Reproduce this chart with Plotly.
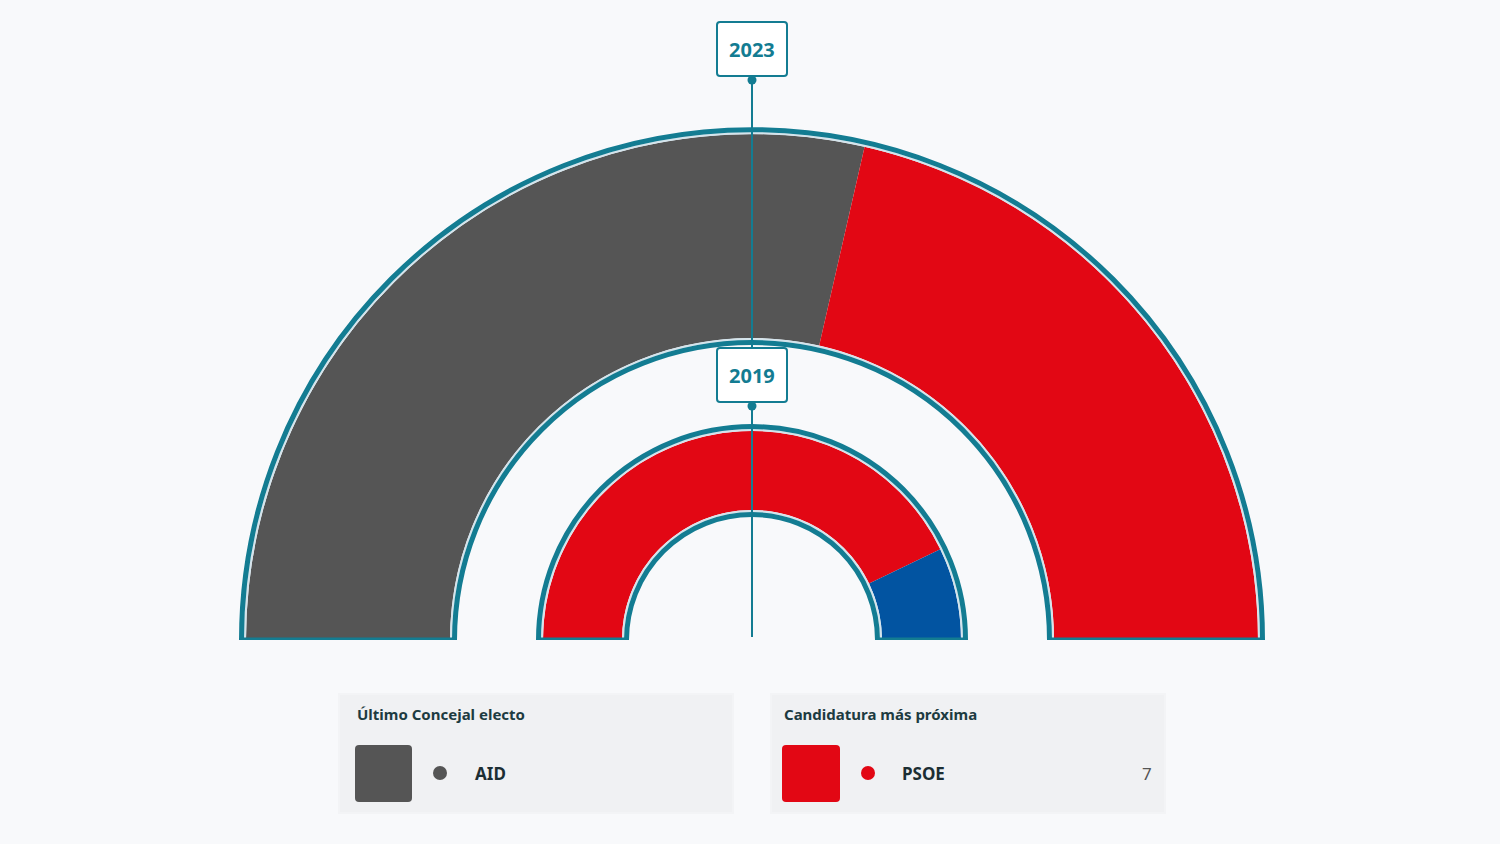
import plotly.graph_objects as go

# seats per party, the two rings of the chart
years = ["2023", "2019"]
parties_2023 = ["AID", "PSOE"]
seats_2023 = [4, 3]
parties_2019 = ["PSOE", "PP"]
seats_2019 = [6, 1]
party_colors = {"AID": "#555555", "PSOE": "#e20714", "PP": "#0254a1"}

# info boxes below the chart
last_elected = "AID"
closest_party = "PSOE"
closest_value = 7

TEAL = "#137c92"
LIGHT = "#d4e4ec"
BG = "#f8f9fb"
W, H = 1500, 844
CX, CY = 752, 640   # centre of the half circles, in pixels
R = 520             # radial range of the polar axis (1 unit = 1 px)

rings = {"2023": (302, 506), "2019": (130, 209)}
ring_data = {"2023": (parties_2023, seats_2023), "2019": (parties_2019, seats_2019)}

fig = go.Figure()

for year in years:
    r_in, r_out = rings[year]
    parties, seats = ring_data[year]
    total = sum(seats)
    start = 180.0
    thetas, widths, cols = [], [], []
    for p, s in zip(parties, seats):
        span = s / total * 180.0
        thetas.append(start - span / 2)
        widths.append(span)
        cols.append(party_colors[p])
        start -= span
    fig.add_trace(go.Barpolar(
        theta=thetas, width=widths, base=[r_in] * len(seats), r=[r_out - r_in] * len(seats),
        marker=dict(color=cols, line=dict(width=0)), text=parties,
        hovertemplate="%{text}<extra>" + year + "</extra>", showlegend=False))
    # light inner stroke and teal border round the whole ring
    fig.add_trace(go.Barpolar(
        theta=[90], width=[180], base=[r_in - 1], r=[r_out - r_in + 2],
        marker=dict(color="rgba(0,0,0,0)", line=dict(color=LIGHT, width=2)),
        hoverinfo="skip", showlegend=False))
    fig.add_trace(go.Barpolar(
        theta=[90], width=[180], base=[r_in - 4.5], r=[r_out - r_in + 9],
        marker=dict(color="rgba(0,0,0,0)", line=dict(color=TEAL, width=5)),
        hoverinfo="skip", showlegend=False))

# dots in the info boxes
fig.add_trace(go.Scatter(
    x=[440, 868], y=[773, 773], mode="markers",
    marker=dict(size=14, color=[party_colors[last_elected], party_colors[closest_party]]),
    hoverinfo="skip", showlegend=False))


def rounded(x0, y0, x1, y1, r):
    return (f"M {x0+r},{y0} L {x1-r},{y0} Q {x1},{y0} {x1},{y0+r} L {x1},{y1-r} "
            f"Q {x1},{y1} {x1-r},{y1} L {x0+r},{y1} Q {x0},{y1} {x0},{y1-r} "
            f"L {x0},{y0+r} Q {x0},{y0} {x0+r},{y0} Z")


shapes = []
# year pointer line
shapes.append(dict(type="line", x0=CX, x1=CX, y0=76, y1=637, line=dict(color=TEAL, width=2)))
for y0 in (22, 348):
    shapes.append(dict(type="path", path=rounded(717, y0, 787, y0 + 54, 3),
                       fillcolor="white", line=dict(color=TEAL, width=2)))
for cy in (80, 406):
    shapes.append(dict(type="circle", x0=CX - 4.5, x1=CX + 4.5, y0=cy - 4.5, y1=cy + 4.5,
                       fillcolor=TEAL, line=dict(width=0)))
# info boxes
for x0 in (340, 772):
    shapes.append(dict(type="rect", x0=x0 - 2, x1=x0 + 394, y0=693, y1=814,
                       fillcolor="#f3f4f6", line=dict(width=0), layer="below"))
    shapes.append(dict(type="rect", x0=x0, x1=x0 + 392, y0=695, y1=812,
                       fillcolor="#f0f1f3", line=dict(width=0), layer="below"))
shapes.append(dict(type="path", path=rounded(355, 745, 412, 802, 4),
                   fillcolor=party_colors[last_elected], line=dict(width=0)))
shapes.append(dict(type="path", path=rounded(782, 745, 840, 802, 4),
                   fillcolor=party_colors[closest_party], line=dict(width=0)))

FONT = "Noto Sans"
ann = []
for year, y in zip(years, (49, 375)):
    ann.append(dict(x=CX, y=y, text=f"<b>{year}</b>", showarrow=False,
                    font=dict(family=FONT, size=20, color=TEAL)))
ann.append(dict(x=355, y=714, text="<b>Último Concejal electo</b>", xanchor="left", showarrow=False,
                font=dict(family=FONT, size=15, color="#1d3b41")))
ann.append(dict(x=782, y=714, text="<b>Candidatura más próxima</b>", xanchor="left", showarrow=False,
                font=dict(family=FONT, size=15, color="#1d3b41")))
ann.append(dict(x=473, y=773, text=f"<b>{last_elected}</b>", xanchor="left", showarrow=False,
                font=dict(family=FONT, size=17, color="#1c2e33")))
ann.append(dict(x=900, y=773, text=f"<b>{closest_party}</b>", xanchor="left", showarrow=False,
                font=dict(family=FONT, size=17, color="#1c2e33")))
ann.append(dict(x=1154, y=773, text=str(closest_value), xanchor="right", showarrow=False,
                font=dict(family=FONT, size=17, color="#555555")))
for a in ann:
    a.update(xref="x", yref="y")
for s in shapes:
    s.update(xref="x", yref="y")

fig.update_layout(
    width=W, height=H, margin=dict(l=0, r=0, t=0, b=0),
    paper_bgcolor=BG, plot_bgcolor="rgba(0,0,0,0)",
    xaxis=dict(range=[0, W], visible=False, fixedrange=True, domain=[0, 1]),
    yaxis=dict(range=[H, 0], visible=False, fixedrange=True, domain=[0, 1]),
    polar=dict(
        domain=dict(x=[(CX - R) / W, (CX + R) / W], y=[(H - CY) / H, (H - CY + R) / H]),
        sector=[0, 180], hole=0, bgcolor="rgba(0,0,0,0)",
        radialaxis=dict(visible=False, range=[0, R]),
        angularaxis=dict(visible=False, direction="counterclockwise", rotation=0),
    ),
    shapes=shapes, annotations=ann,
)

fig.write_html("out.html", config={"displayModeBar": False})

# drop the browser's default page margin so the figure sits at the window's corner
with open("out.html", encoding="utf-8") as f:
    page = f.read()
page = page.replace("<head>", "<head><style>html,body{margin:0;padding:0;background:%s;}</style>" % BG, 1)
with open("out.html", "w", encoding="utf-8") as f:
    f.write(page)
